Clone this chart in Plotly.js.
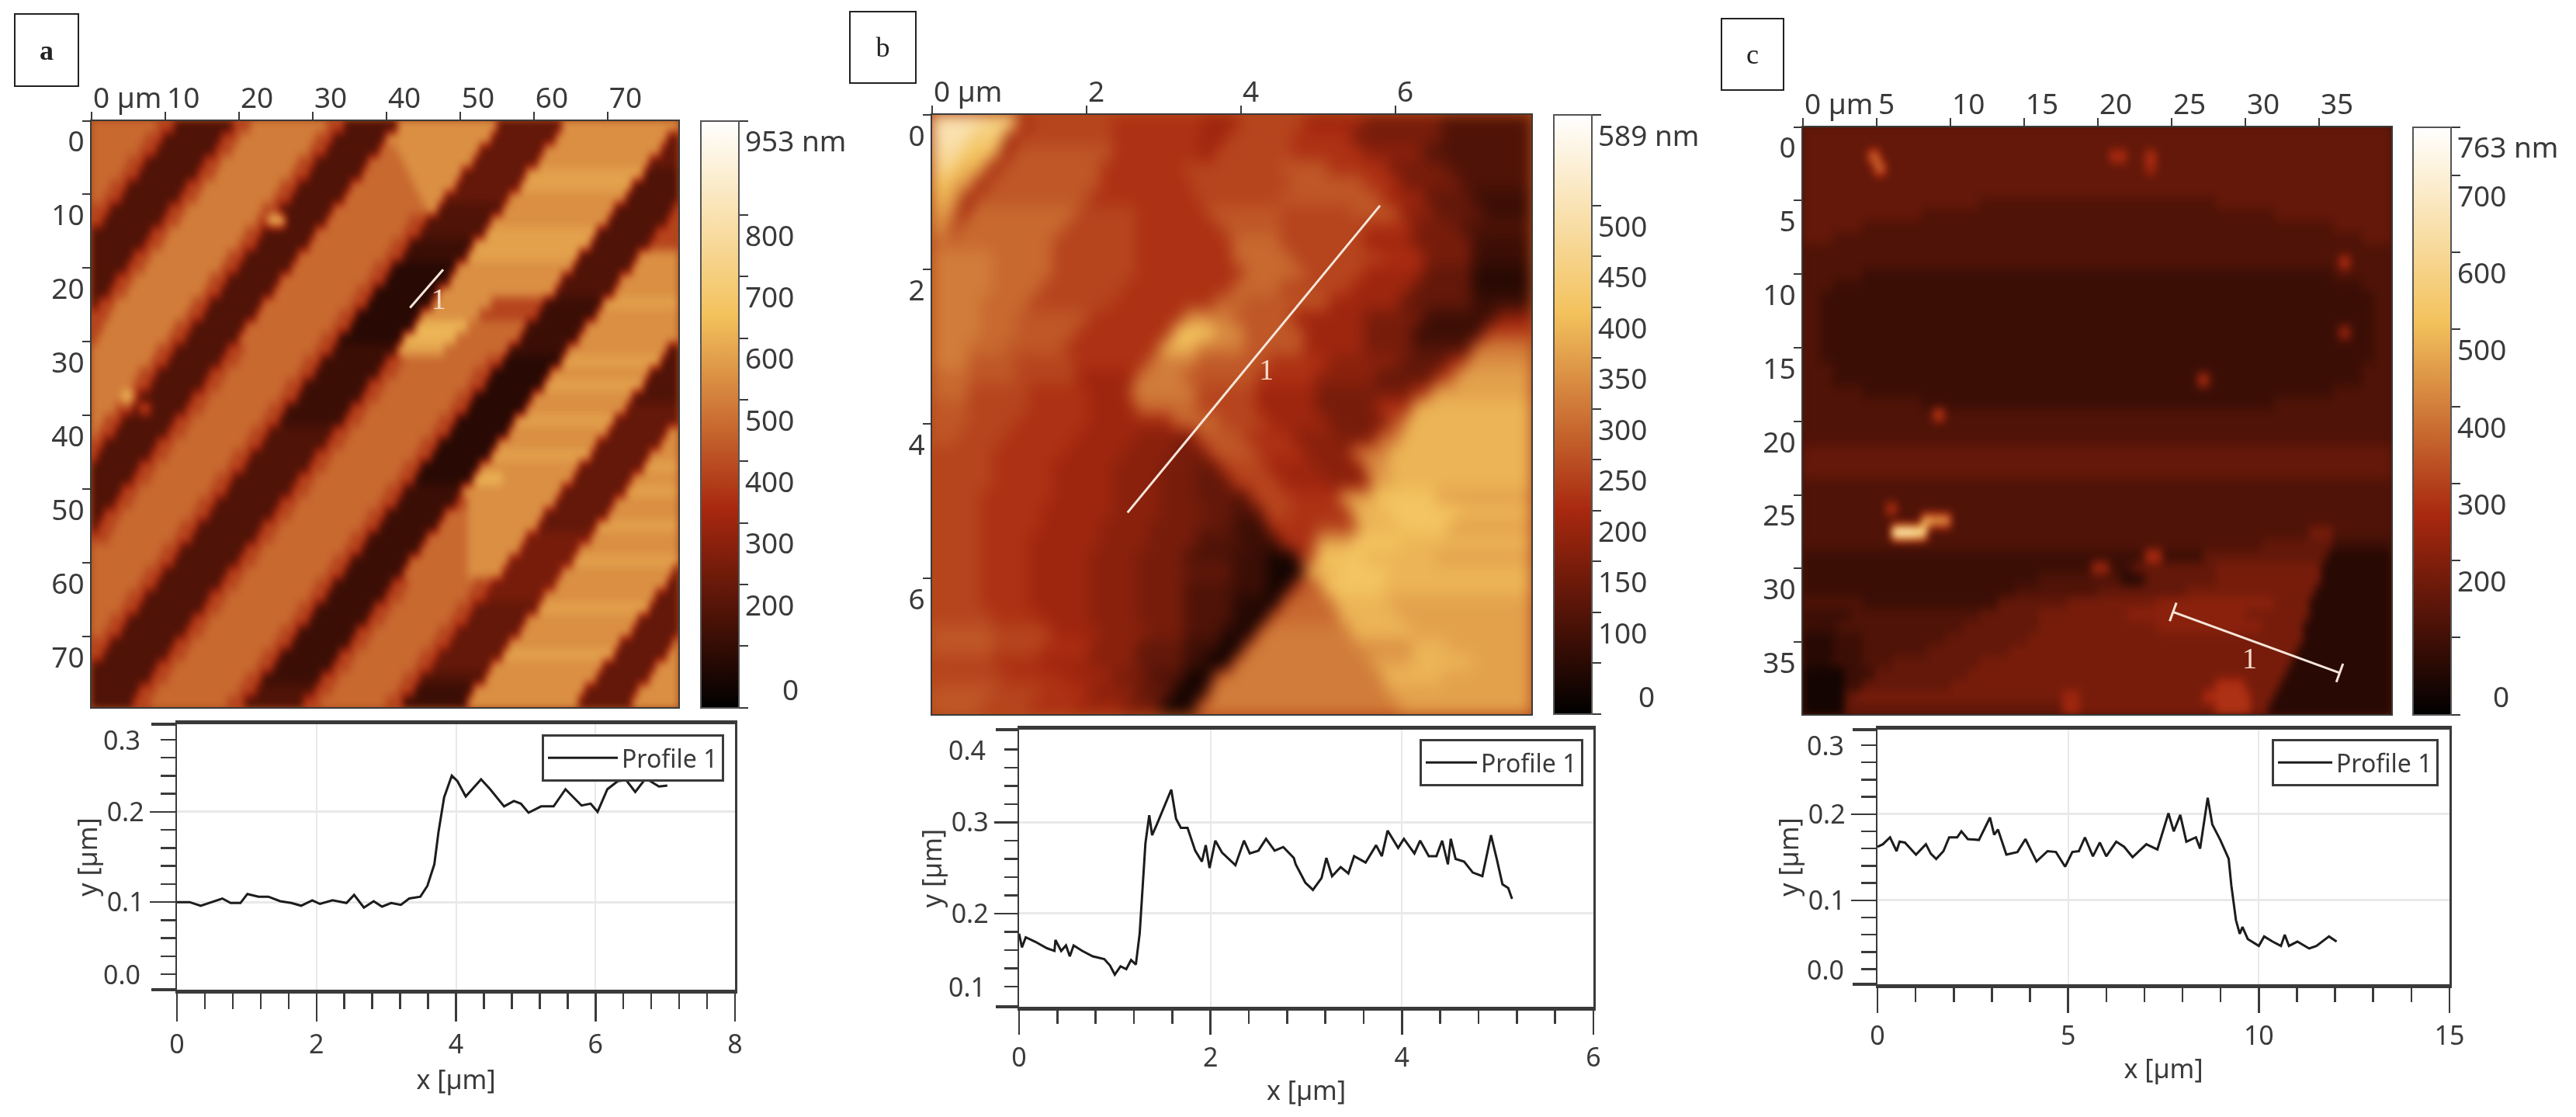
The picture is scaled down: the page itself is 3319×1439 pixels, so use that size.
<!DOCTYPE html>
<html><head><meta charset="utf-8">
<script src="https://cdn.plot.ly/plotly-3.0.1.min.js"></script>
<style>html,body{margin:0;padding:0;background:#fff}#p{width:3319px;height:1439px;filter:blur(0.7px)}
.subplot.xy .hm image{filter:blur(4px)}.subplot.x2y2 .hm image{filter:blur(9px)}.subplot.x3y3 .hm image{filter:blur(5px)}</style>
</head><body><div id="p"></div>
<script>
// Height maps. Each row: level letter (a=0 ... z=100 % of the colour scale) + column (%) where that level ends.
const mapA=[
"m11k14e24k27n40k43e52o69f80o100","m9k12e22k25n38k41e50o68f79o98f100","m8k11e21k24n37k40e49m52o66f77o97f100","m6k9e19k22n35k38e47m53o65f76o95f100",
"m5k8e18k21n34k37e46m54o63f74p94e100","m3k6e16k19n32k35e44m55o62f73p92e100","m2k5e15k18n31k34e43m56o60f71o91e100","k3e13k16n29k32e41m57o59e70o89e99k100",
"k2e12k15n28k30q33e40m54k57e68o88e98k100","e10k13n26k29e38m53k56e67p86e96k100","e9k12n25k28e37m51k54d65p85e95k100","e7k10n23k26e35m50k53d64p83e93o100",
"e6k9n22k25e34m48k51c62o82e92o100","e4k7n20k23e32m47k50c61o80e90o100","e3k6n19k22e31m45k48c59o79e89o100","e1k4n17k20e29m44k47c58o68k77d87p100",
"k3n16k19e28m42k45c56o66k76d86o100","k2n14k17e26m41k44c55q64m74d84o100","k1n13k16e25m39k42c53q62m73d83o100","n11k14e23k26m38k41d52p60m71d81o98e100",
"n10k13e22k25m36k39d50k53m67k70c80p97e100","n8k11e20k23m35k38d49k52m65k68c78o95e100","n7k10e19k22m33k36d47k50m64k67c77p94e100","n5q7k8e17k20m32k35d46k49m62k65c75o92e100",
"n4k7e8k10e16k19m30k33d44k47m61k64c74o91f100","n2k5e14k17m29k32d43k46m59k62c72p89f100","n1k4e13k16m27k30e41k44m58k61c71o88f98o100","k2e11k14m26k29e40k43m56k59c69o86f97o100",
"k1e10k13m24k27e38k41m55k58c68p85f95o100","e8k11m23k26e37k40m53k56c66o83f94p100","e7k10m21k24e35k38m52k55c65q70o82f92o100","e5k8m20k23e34k37m50k53d63o80f91p100",
"e4k7m18k21e32k35m49k52d62k64o79f89o100","e2k5m17k20e31k34m47k50d60m64o77f88o100","e1k4m15k18e29k32m46k49d59m64o76f86p100","k3m14k17e28k31m44k47d57m64o74g85o100",
"m12k15e26k29m43k46d56m64o73g83o100","m11k14e25k28m41k44d54m64o71g82p100","m9k12e23k26m40k43d53m64o70g80o99f100","m8k11e22k25m38k41d51k54m65k68g79o98f100",
"m6k9e20k23m37k40d50k53m64k67g77o96f100","m5k8e19k22m35k38d48k51m62k65f76p95f100","m3k6e17k20m34k37d47k50m61k64f74o93f100","m2k5e16k19m32k35d45k48m59k62f73o92f100",
"k3e14k17m31k34d44k47m58k61f71o90f99o100","k2e13k16m29k32d42k45m56k59f70p89f98o100","e11k14m28k31d41k44m55k58f68o87f96o100","e10k13m26k29d39k42m53k56e67o86f95o100",
"e8k11m25k28e38k41m52k55d65o84f93o100","e7k10m23k26e36k39m50k53d64o83f92o100"];
const mapB=[
"v8t14i16k30j45i51k62i72g85e100","v6s12h14k30j45i49k60j70g85e100","u5r11h13l30j44i47k60j72h82e100","t4q9h11l28j42k58l66j76g86e100",
"r3p7h9l28j43k60l72j78g88e100","q3o5h7l26j44k58l75i82f90d100","p2o4i6m24k34j46l58k70l78h84f92d100","o3i4m22k34j48l58k72j80g88e100",
"m20k34j50m58k72i80g90d100","n10m20k34j50m60k75j82g90d100","n10m20k34j52m62k72i82f90c100","n10m18k32j50m58k70i80f90c100",
"n8m16k30j47m52l66i78f90d100","n8m14l26j42o46n50l60i72g82d94h100","n8m14l24j40r47o52l62i72g80d92k100","n6m12l22j38q44n52l62i72g80e90n100",
"n6l14k24j36n44l56j66h78f86j89o100","m6l14k24i34n42l54j64h74f84k87p100","m6k16j26i33n44k54i64g72g80j83p100","l6k16j26i34m44k54i64g74j80q100",
"l6k14j26i40m48k56i66g76l79q100","l4k12j24i34h40g44l52j60h68g74m78q100","k10j22i32h40g46l54j62h70n76q100","k10j20i30h38g44f48k56i64h72o76q100",
"k10j20i30h38g44f50k58i66h73p77q100","k8j20i30h38g44f50e53k60j68p74r84p100","k8j18i30h38g46f50e55k60j70q76r88q100","k8j18i28h36g44f50d56j64k71q78r86p100",
"k8j16i28h36g44e52d58j64p70r78q100","k8j16i26h34g42e50d56b61k64r72q84p100","k8j16i26h34g42f50d56b60a62q68r76q100","k8j16i26h34g42e50d56b60l65r75q100",
"k8j16i26h34g42e50c56a58m67q76p100","k10j18i26h34g42e50c54a56m68q78p100","l10k20i28h36g42e48c52a54n70q80p100","l10k18j26h34f42d48b50a52n71o80q86p100",
"k10j18i26h34f42d46a50n73p80q90p100","k12j22i30g36e42b47n75q85p100","l10k18j26h34f40b46n76p100","l8k16j24i32g38b44n78p100"];
const mapC=[
"f100","f100","f11m13f52j55f58j60f100","f12m14f58i60f100","f100","f100","f30e70f100","f20e80f100","f10e90f100","f5e95f100",
"e100","e91j93e100","e10d90e100","e5d95e100","e3d97e100","e3d97e100","e3d97e100","e3d91i93d97e100","e3d97e100","e3d97e100",
"e5d95e100","e5d67j69d95e100","e10d90e100","e20d80e100","e22k24e100","e100","e100","f100","f100","f100",
"e100","e100","e14j16e100","e20q22p25e100","e15x19v21e86g90e100","e78f90d100","d58j61d68f89c100","d49i52d56f70g88c100","d40e54c58f70g88c100","d36e50f65g87c100",
"e10d33f45g60h80g86c100","d8e30f40g55h75g86c100","d6e27f40g60h78g85c100","c5d10e24f38g85c100","c5d10e21f35g84c100","c5d10e15f30g83c100","b7d12f28g82c100","b7d10f25g70j75g81c100","b7f9g44i47g68j76g80c100","b7f44i47g70j76g79c100"];

const zmaxA=953, zmaxB=589, zmaxC=763;
const spanA=79.6, spanB=7.76, spanC=39.9;

// Measured profile lines drawn over the height maps (µm)
const lineAx=[43.2,47.7], lineAy=[25.4,20.2], labelA=[47.1,24.6];
const lineBx=[2.53,5.80], lineBy=[5.15,1.175], labelB=[4.33,3.33];
const lineCx=[25.1,36.4], lineCy=[32.96,37.1], labelC=[30.3,36.3];

// Profiles
const profAx=[0,.18,.34,.50,.65,.77,.91,1.01,1.17,1.31,1.48,1.64,1.78,1.94,2.05,2.23,2.43,2.54,2.68,2.82,2.94,3.07,3.21,3.33,3.49,3.59,3.69,3.75,3.83,3.94,4.02,4.14,4.36,4.49,4.69,4.83,4.93,5.04,5.22,5.40,5.57,5.80,5.93,6.03,6.17,6.32,6.44,6.57,6.72,6.91,7.03];
const profAy=[.100,.100,.096,.100,.104,.099,.099,.109,.106,.106,.101,.099,.096,.102,.098,.102,.099,.108,.094,.101,.095,.099,.097,.104,.106,.118,.142,.178,.216,.240,.234,.217,.236,.225,.206,.212,.209,.199,.206,.206,.225,.207,.209,.200,.225,.234,.235,.222,.237,.228,.229];
const profBx=[0,.03,.07,.17,.29,.37,.38,.44,.49,.53,.57,.66,.77,.89,.95,1.00,1.06,1.12,1.17,1.22,1.26,1.29,1.32,1.36,1.39,1.44,1.49,1.54,1.59,1.64,1.69,1.76,1.84,1.91,1.95,1.99,2.05,2.12,2.26,2.35,2.41,2.50,2.58,2.67,2.76,2.87,2.89,2.99,3.07,3.16,3.21,3.27,3.36,3.44,3.50,3.62,3.73,3.79,3.85,3.96,4.02,4.13,4.19,4.28,4.36,4.42,4.48,4.51,4.56,4.65,4.74,4.84,4.93,4.99,5.05,5.11,5.15];
const profBy=[.178,.163,.174,.169,.162,.159,.171,.159,.165,.153,.165,.159,.153,.150,.143,.133,.142,.139,.149,.144,.178,.231,.277,.308,.286,.298,.311,.323,.336,.304,.294,.294,.269,.257,.275,.250,.280,.267,.253,.280,.266,.269,.282,.269,.273,.261,.254,.234,.226,.239,.261,.241,.251,.244,.263,.256,.275,.263,.291,.272,.282,.266,.280,.263,.263,.280,.254,.282,.260,.257,.245,.241,.286,.260,.232,.228,.216];
const profCx=[0,.14,.33,.50,.58,.72,1.01,1.27,1.40,1.54,1.73,1.88,2.09,2.20,2.37,2.66,2.95,3.06,3.16,3.38,3.67,3.88,4.17,4.46,4.68,4.92,5.11,5.28,5.44,5.65,5.83,6.00,6.26,6.47,6.69,7.05,7.34,7.63,7.77,7.94,8.10,8.35,8.46,8.66,8.78,8.99,9.21,9.28,9.40,9.50,9.57,9.71,10.0,10.14,10.36,10.58,10.68,10.79,11.01,11.32,11.51,11.84,12.04];
const profCy=[.162,.165,.173,.157,.168,.167,.153,.165,.154,.148,.157,.173,.173,.180,.171,.170,.196,.176,.182,.153,.156,.171,.145,.157,.156,.139,.156,.157,.173,.151,.167,.151,.168,.162,.150,.165,.159,.201,.180,.199,.168,.173,.160,.219,.188,.170,.148,.117,.077,.061,.069,.055,.047,.058,.052,.047,.060,.047,.052,.044,.047,.058,.052];

const ticksA=[0,10,20,30,40,50,60,70], ticksB=[0,2,4,6], ticksC=[0,5,10,15,20,25,30,35];
const cbA=[0,100,200,300,400,500,600,700,800,953], cbAtext=["","","200","300","400","500","600","700","800","953 nm"];
const cbB=[0,50,100,150,200,250,300,350,400,450,500,589], cbBtext=["","","100","150","200","250","300","350","400","450","500","589 nm"];
const cbC=[0,100,200,300,400,500,600,700,763], cbCtext=["","","200","300","400","500","600","700","763 nm"];

const palette=[[0,"#000000"],[0.34,"#a8280f"],[0.67,"#f3c25d"],[1,"#ffffff"]];
const W=3319,H=1439,ink="#3a3a3a",font="Noto Sans";
const fx=p=>p/W, fy=p=>1-p/H, dx=(a,b)=>[a/W,b/W], dy=(t,b)=>[1-b/H,1-t/H];

function grid(rows,zmax){return rows.map(r=>{const out=[];for(const m of r.matchAll(/([a-z])(\d+)/g)){const v=(m[1].charCodeAt(0)-97)/25*zmax;while(out.length<+m[2])out.push(v);}return out;});}

function hm(rows,zmax,span,xa,ya,cbx,cbtop,cbbot,tv,tt){
 return {type:"heatmap",z:grid(rows,zmax),x0:span/200,dx:span/100,y0:span/rows.length/2,dy:span/rows.length,xaxis:xa,yaxis:ya,zmin:0,zmax:zmax,zsmooth:"best",colorscale:palette,hoverinfo:"skip",
  colorbar:{thicknessmode:"pixels",thickness:49,lenmode:"fraction",len:(cbbot-cbtop)/H,x:fx(cbx),xanchor:"left",xpad:0,y:fy(cbtop),yanchor:"top",ypad:0,outlinecolor:"#555",outlinewidth:2,tickmode:"array",tickvals:tv,ticktext:tt,ticks:"outside",ticklen:11,tickwidth:2,tickcolor:ink,ticklabelposition:"outside bottom",tickfont:{family:font,size:37,color:ink}}};
}
function seg(x,y,xa,ya,caps){const t={type:"scatter",mode:caps?"lines+markers":"lines",x:x,y:y,xaxis:xa,yaxis:ya,showlegend:false,hoverinfo:"skip",line:{color:"#f6e6da",width:3}};if(caps)t.marker={symbol:"line-ns",size:18,angle:20,color:"#f6e6da",line:{color:"#f6e6da",width:3}};return t;}
function lab(p,xa,ya){return {type:"scatter",mode:"text",x:[p[0]],y:[p[1]],text:["1"],xaxis:xa,yaxis:ya,showlegend:false,hoverinfo:"skip",textfont:{family:"Liberation Serif",size:38,color:"#f6dccb"}};}
function prof(x,y,xa,ya,lg){return {type:"scatter",mode:"lines",name:"Profile 1",x:x,y:y,xaxis:xa,yaxis:ya,legend:lg,hoverinfo:"skip",line:{color:"#1c1c1c",width:3}};}

function topAxis(l,r,span,tv,ya){return {domain:dx(l,r),range:[0,span],side:"top",anchor:ya,tickmode:"array",tickvals:tv,ticktext:tv.map((v,i)=>i?String(v):"0 µm"),ticks:"outside",ticklen:10,tickwidth:2,tickcolor:ink,ticklabelposition:"outside right",showgrid:false,zeroline:false,showline:true,linecolor:ink,linewidth:2,mirror:true,tickfont:{family:font,size:37,color:ink}};}
function leftAxis(t,b,span,tv,xa){return {domain:dy(t,b),range:[span,0],anchor:xa,tickmode:"array",tickvals:tv,ticks:"outside",ticklen:10,tickwidth:2,tickcolor:ink,ticklabelposition:"outside bottom",showgrid:false,zeroline:false,showline:true,linecolor:ink,linewidth:2,mirror:true,tickfont:{family:font,size:37,color:ink}};}
function px(l,r,range,major,minor,ya,len){return {domain:dx(l,r),range:range,anchor:ya,tickmode:"array",tickvals:major,ticktext:major.map(String),ticks:"outside",ticklen:len,tickwidth:2.5,tickcolor:ink,showgrid:true,gridcolor:"#e9e9e9",gridwidth:2,zeroline:false,showline:true,linecolor:ink,linewidth:5,mirror:true,tickfont:{family:font,size:34,color:ink},title:{text:"x [µm]",font:{family:font,size:34,color:ink},standoff:12},minor:{tickmode:"array",tickvals:minor,ticks:"outside",ticklen:Math.round(len*0.55),tickwidth:2.5,tickcolor:ink,showgrid:false}};}
function py(t,b,range,major,minor,xa,len){return {domain:dy(t,b),range:range,anchor:xa,tickmode:"array",tickvals:major,ticktext:major.map(v=>v.toFixed(1)),ticks:"outside",ticklen:len,tickwidth:2.5,tickcolor:ink,showgrid:true,gridcolor:"#e9e9e9",gridwidth:3,zeroline:false,showline:true,linecolor:ink,linewidth:2.5,mirror:true,tickfont:{family:font,size:34,color:ink},title:{text:"y [µm]",font:{family:font,size:34,color:ink},standoff:2},minor:{tickmode:"array",tickvals:minor,ticks:"outside",ticklen:Math.round(len*0.58),tickwidth:2.5,tickcolor:ink,showgrid:false}};}
function lg(rx,ty,iw){return {x:fx(rx),xanchor:"right",y:fy(ty),yanchor:"top",bgcolor:"#fff",bordercolor:ink,borderwidth:3,font:{family:font,size:32,color:ink},itemwidth:iw};}
function note(text,x,y,size){return {text:text,x:x,y:y,xref:"paper",yref:"paper",xanchor:"center",yanchor:"middle",showarrow:false,font:{family:font,size:size||37,color:ink}};}
function box(text,l,t,r,b,bold){return {text:bold?"<b>"+text+"</b>":text,x:fx((l+r)/2),y:fy((t+b)/2),xref:"paper",yref:"paper",xanchor:"center",yanchor:"middle",showarrow:false,width:r-l,height:b-t,bordercolor:"#222",borderwidth:2,font:{family:"Liberation Serif",size:36,color:"#222"}};}
function axisNote(text,xpx,yref,val){return {text:text,x:fx(xpx),xanchor:"right",xref:"paper",y:val,yref:yref,yanchor:"middle",showarrow:false,font:{family:font,size:34,color:ink}};}
function ext(x0,x1,yp){return {type:"line",xref:"paper",yref:"paper",x0:fx(x0),x1:fx(x1),y0:fy(yp),y1:fy(yp),line:{color:ink,width:4}};}
function under(l,t,r,b,c){return {type:"rect",layer:"below",xref:"paper",yref:"paper",x0:fx(l),x1:fx(r),y0:fy(b),y1:fy(t),fillcolor:c,line:{width:0}};}

const data=[
 hm(mapA,zmaxA,spanA,"x","y",903,155.5,911,cbA,cbAtext),
 hm(mapB,zmaxB,spanB,"x2","y2",2002,148,920,cbB,cbBtext),
 hm(mapC,zmaxC,spanC,"x3","y3",3109,163.5,920,cbC,cbCtext),
 seg(lineAx,lineAy,"x","y"),lab(labelA,"x","y"),
 seg(lineBx,lineBy,"x2","y2"),lab(labelB,"x2","y2"),
 seg(lineCx,lineCy,"x3","y3",true),lab(labelC,"x3","y3"),
 prof(profAx,profAy,"x4","y4","legend"),
 prof(profBx,profBy,"x5","y5","legend2"),
 prof(profCx,profCy,"x6","y6","legend3")
];
const layout={width:W,height:H,margin:{l:0,r:0,t:0,b:0},paper_bgcolor:"#fff",plot_bgcolor:"#fff",showlegend:true,
 xaxis:topAxis(118,874,spanA,ticksA,"y"), yaxis:leftAxis(155.5,911,spanA,ticksA,"x"),
 xaxis2:topAxis(1201,1973,spanB,ticksB,"y2"), yaxis2:leftAxis(148,920,spanB,ticksB,"x2"),
 xaxis3:topAxis(2323,3081,spanC,ticksC,"y3"), yaxis3:leftAxis(163.5,920,spanC,ticksC,"x3"),
 xaxis4:px(228,947,[0,8],[0,2,4,6,8],[.4,.8,1.2,1.6,2.4,2.8,3.2,3.6,4.4,4.8,5.2,5.6,6.4,6.8,7.2,7.6],"y4",36),
 yaxis4:py(933,1275,[.003,.297],[.1,.2],[.02,.04,.06,.08,.12,.14,.16,.18,.22,.24,.26,.28],"x4",33),
 xaxis5:px(1313,2053,[0,6],[0,2,4,6],[.4,.8,1.2,1.6,2.4,2.8,3.2,3.6,4.4,4.8,5.2,5.6],"y5",31),
 yaxis5:py(940,1297,[.0977,.4018],[.2,.3],[.12,.14,.16,.18,.22,.24,.26,.28,.32,.34,.36,.38],"x5",30),
 xaxis6:px(2419,3156,[0,15],[0,5,10,15],[1,2,3,4,6,7,8,9,11,12,13,14],"y6",32),
 yaxis6:py(940,1268,[.0025,.298],[.1,.2],[.02,.04,.06,.08,.12,.14,.16,.18,.22,.24,.26,.28],"x6",32),
 legend:lg(933,946,90), legend2:lg(2040,952,66), legend3:lg(3142,952,70),
 annotations:[
  box("a",21,20,99,109,true),box("b",1097,17,1178,105),box("c",2220,26,2296,114),
  note("0",fx(1018),fy(888)),note("0",fx(2121),fy(897)),note("0",fx(3222),fy(897)),
  axisNote("0.3",183,"y4",.28),axisNote("0.0",183,"y4",.02),
  axisNote("0.4",1272,"y5",.38),axisNote("0.1",1272,"y5",.12),
  axisNote("0.3",2378,"y6",.28),axisNote("0.0",2378,"y6",.02)
 ],
 shapes:[under(118,155.5,874,911,"#a8481a"),under(1201,148,1973,920,"#b54a18"),under(2323,163.5,3081,920,"#4d1206"),
  ext(195,228,933),ext(195,228,1275),ext(1283,1313,940),ext(1283,1313,1297),ext(2387,2419,940),ext(2387,2419,1268)]
};
Plotly.newPlot("p",data,layout,{staticPlot:true,displayModeBar:false});
</script></body></html>
